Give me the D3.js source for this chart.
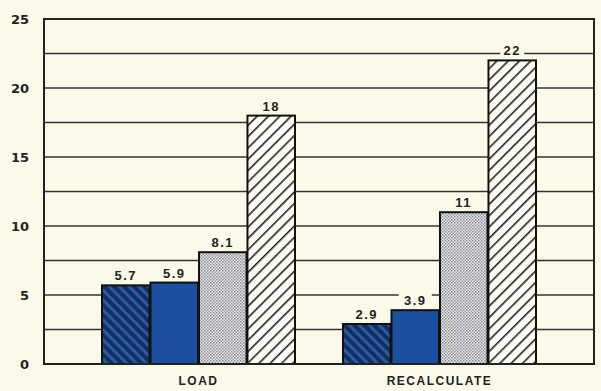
<!DOCTYPE html>
<html>
<head>
<meta charset="utf-8">
<script src="https://cdn.jsdelivr.net/npm/d3@7"></script>
<style>
  html, body { margin: 0; padding: 0; background: #fbfae9; }
  svg { display: block; }
  text { font-family: "Liberation Sans", Arial, sans-serif; font-weight: bold; fill: #222; }
</style>
</head>
<body>
<svg id="chart" width="601" height="391"></svg>
<script>
// Benchmark timings per operation
const categories = ["LOAD", "RECALCULATE"];
const seriesNames = ["A", "B", "C", "D"];
const loadValues = [5.7, 5.9, 8.1, 18];
const recalcValues = [2.9, 3.9, 11, 22];
const valueLabels = [["5.7", "5.9", "8.1", "18"], ["2.9", "3.9", "11", "22"]];
const yTicks = [0, 5, 10, 15, 20, 25];
const gridValues = [2.5, 5, 7.5, 10, 12.5, 15, 17.5, 20, 22.5];

const rows = [loadValues, recalcValues];

const svg = d3.select("#chart");
const plot = { left: 44, right: 594, top: 19, bottom: 364 };

const y = d3.scaleLinear().domain([0, 25]).range([plot.bottom, plot.top]);
const x0 = d3.scaleBand().domain(categories).range([78, 560]);
const x1 = d3.scaleBand().domain(seriesNames).range([24, 217]).paddingInner(0.02);

// Fill patterns
const defs = svg.append("defs");

const p1 = defs.append("pattern").attr("id", "darkHatch")
  .attr("patternUnits", "userSpaceOnUse").attr("width", 7).attr("height", 7)
  .attr("patternTransform", "rotate(-45)");
p1.append("rect").attr("width", 7).attr("height", 7).attr("fill", "#13305f");
p1.append("rect").attr("x", 0).attr("width", 3).attr("height", 7).attr("fill", "#2d5aa6");

const p2 = defs.append("pattern").attr("id", "stipple")
  .attr("patternUnits", "userSpaceOnUse").attr("width", 3).attr("height", 3);
p2.append("rect").attr("width", 3).attr("height", 3).attr("fill", "#e8e8ea");
p2.append("rect").attr("width", 1.5).attr("height", 1.5).attr("fill", "#8a8c94");
p2.append("rect").attr("x", 1.5).attr("y", 1.5).attr("width", 1.5).attr("height", 1.5).attr("fill", "#9a9ca4");

const p3 = defs.append("pattern").attr("id", "lightHatch")
  .attr("patternUnits", "userSpaceOnUse").attr("width", 8).attr("height", 8)
  .attr("patternTransform", "rotate(45)");
p3.append("rect").attr("width", 8).attr("height", 8).attr("fill", "#fdfdf6");
p3.append("rect").attr("x", 0).attr("width", 1.6).attr("height", 8).attr("fill", "#222");

const fills = ["url(#darkHatch)", "#1c4f9f", "url(#stipple)", "url(#lightHatch)"];

// Horizontal grid lines
svg.append("g").selectAll("line").data(gridValues).join("line")
  .attr("x1", plot.left).attr("x2", plot.right)
  .attr("y1", d => y(d)).attr("y2", d => y(d))
  .attr("stroke", "#333").attr("stroke-width", 1.6);

// Left axis labels
const axis = d3.axisLeft(y).tickValues(yTicks).tickSize(0).tickPadding(15).tickFormat(d3.format("d"));
const gAxis = svg.append("g").attr("transform", `translate(${plot.left},0)`).call(axis);
gAxis.select(".domain").remove();
gAxis.selectAll("text").style("font-size", "13px").attr("fill", "#222")
  .style("font-family", "'DejaVu Sans', sans-serif").style("font-weight", "bold");

// Bars
const groups = svg.append("g").selectAll("g").data(rows).join("g")
  .attr("transform", (d, i) => `translate(${x0(categories[i])},0)`);

groups.selectAll("rect").data(d => d.map((v, j) => ({ v, j }))).join("rect")
  .attr("x", d => x1(seriesNames[d.j]))
  .attr("width", x1.bandwidth())
  .attr("y", d => y(d.v))
  .attr("height", d => y(0) - y(d.v))
  .attr("fill", d => fills[d.j])
  .attr("stroke", "#111").attr("stroke-width", 2);

// Value labels above bars, with a gap cut into the grid lines
groups.each(function (row, i) {
  const g = d3.select(this);
  row.forEach((v, j) => {
    const cx = x1(seriesNames[j]) + x1.bandwidth() / 2;
    const ty = y(v) - 5;
    const lbl = valueLabels[i][j];
    const w = lbl.length * 9 + 6;
    g.append("rect").attr("x", cx - w / 2).attr("y", ty - 12).attr("width", w).attr("height", 14)
      .attr("fill", "#fbfae9");
    g.append("text").attr("x", cx).attr("y", ty).attr("text-anchor", "middle")
      .style("font-size", "13px").style("letter-spacing", "1.5px").text(lbl);
  });
});

// Plot frame
svg.append("rect")
  .attr("x", plot.left).attr("y", plot.top)
  .attr("width", plot.right - plot.left).attr("height", plot.bottom - plot.top)
  .attr("fill", "none").attr("stroke", "#222").attr("stroke-width", 2);

// Category labels
svg.append("g").selectAll("text").data(categories).join("text")
  .attr("x", d => x0(d) + x0.bandwidth() / 2)
  .attr("y", 385)
  .attr("text-anchor", "middle")
  .style("font-size", "12px").style("letter-spacing", "1.5px")
  .text(d => d);
</script>
</body>
</html>
